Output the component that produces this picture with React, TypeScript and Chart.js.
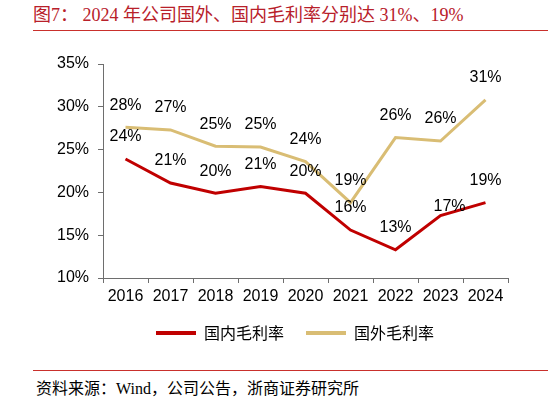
import React, { useEffect, useRef } from 'react';
import Chart from 'chart.js/auto';

// 年份与毛利率（%）
const years = ['2016', '2017', '2018', '2019', '2020', '2021', '2022', '2023', '2024'];
const domesticMargin = [23.9, 21.1, 19.9, 20.7, 19.9, 15.6, 13.3, 17.3, 18.8];
const overseasMargin = [27.6, 27.3, 25.4, 25.3, 23.6, 18.8, 26.4, 26.0, 30.8];
const seriesNames = ['国内毛利率', '国外毛利率'];

const RED = '#c00000';
const GOLD = '#d9bd74';
const AXIS = '#6e6e6e';

const valueLabels = {
    id: 'valueLabels',
    afterDatasetsDraw(chart: any) {
        const ctx = chart.ctx;
        ctx.save();
        ctx.font = '16px Arial, "Liberation Sans", sans-serif';
        ctx.fillStyle = '#000';
        ctx.textAlign = 'center';
        ctx.textBaseline = 'middle';
        chart.data.datasets.forEach((ds: any, i: number) => {
            chart.getDatasetMeta(i).data.forEach((pt: any, j: number) => {
                // 2023 国内 label sits lower and to the right in the source
                const moved = i === 0 && j === 7;
                const dx = moved ? 9 : 0;
                const dy = moved ? 13 : 0;
                ctx.fillText(Math.round(ds.data[j]) + '%', pt.x + dx, pt.y - 22 + dy);
            });
        });
        ctx.restore();
    }
};

// nudge the legend a little right, like the source
const legendShift = {
    id: 'legendShift',
    afterLayout(chart: any) {
        if (!chart.legend) return;
        chart.legend.left += 14;
        chart.legend.right += 14;
    }
};

const MarginChart = () => {
    const chartRef = useRef<HTMLCanvasElement>(null);

    useEffect(() => {
        if (!chartRef?.current) return;
        const ctx = chartRef.current.getContext('2d');
        if (!ctx) return;
        const tickFont = { family: 'Arial, "Liberation Sans", sans-serif', size: 16 };
        const myChart = new Chart(ctx, {
            type: 'line',
            data: {
                labels: years,
                datasets: [
                    {
                        label: seriesNames[0],
                        data: domesticMargin,
                        borderColor: RED,
                        backgroundColor: RED,
                        borderWidth: 3,
                        pointRadius: 0,
                        tension: 0,
                        fill: false,
                    },
                    {
                        label: seriesNames[1],
                        data: overseasMargin,
                        borderColor: GOLD,
                        backgroundColor: GOLD,
                        borderWidth: 3,
                        pointRadius: 0,
                        tension: 0,
                        fill: false,
                    }
                ]
            },
            options: {
                animation: false,
                responsive: true,
                maintainAspectRatio: false,
                layout: { padding: { top: 24, left: 54, right: 40, bottom: 9 } },
                plugins: {
                    tooltip: { enabled: false },
                    legend: {
                        position: 'bottom',
                        labels: {
                            boxWidth: 40,
                            boxHeight: 4,
                            padding: 22,
                            color: '#000',
                            font: { family: '"Noto Sans CJK SC", sans-serif', size: 16 },
                            generateLabels: (chart: any) =>
                                Chart.defaults.plugins.legend.labels.generateLabels(chart).map((l: any) => ({
                                    ...l,
                                    lineWidth: 0,
                                    fillStyle: l.strokeStyle,
                                })),
                        }
                    }
                },
                scales: {
                    x: {
                        offset: true,
                        afterFit: (s: any) => { s.height = 25; },
                        border: { display: true, color: AXIS, width: 1 },
                        grid: { display: true, offset: true, drawOnChartArea: false, drawTicks: true, tickLength: 5, color: AXIS },
                        ticks: { color: '#000', font: tickFont, padding: 4, autoSkip: false, maxRotation: 0 },
                    },
                    y: {
                        min: 10,
                        max: 35,
                        afterFit: (s: any) => { s.width = 49; },
                        border: { display: true, color: AXIS, width: 1 },
                        grid: { display: true, drawOnChartArea: false, drawTicks: true, tickLength: 5, color: AXIS },
                        ticks: { stepSize: 5, color: '#000', font: tickFont, padding: 9, callback: (v: any) => v + '%' },
                    }
                }
            },
            plugins: [valueLabels, legendShift]
        });

        return () => {
            myChart.destroy();
        };
    }, []);

    return <canvas ref={chartRef} />;
};

const App = () => {
    return (
        <div style={{ position: 'absolute', left: 0, top: 0, width: 548, height: 402, background: '#fff', overflow: 'hidden' }}>
            <div style={{
                position: 'absolute', left: 33, top: 4, height: 22, lineHeight: '22px', whiteSpace: 'nowrap',
                fontSize: 18, color: '#b8202a', fontFamily: '"Liberation Serif", "Noto Sans CJK SC", serif'
            }}>
                图7： 2024 年公司国外、国内毛利率分别达 31%、19%
            </div>
            <div style={{ position: 'absolute', left: 33, top: 30, width: 515, height: 1, background: '#c9302c' }} />
            <div style={{ position: 'absolute', left: 0, top: 40, width: 548, height: 320 }}>
                <MarginChart />
            </div>
            <div style={{ position: 'absolute', left: 33, top: 370, width: 515, height: 1, background: '#c9302c' }} />
            <div style={{
                position: 'absolute', left: 36, top: 378, height: 22, lineHeight: '22px', whiteSpace: 'nowrap',
                fontSize: 16, color: '#000', fontFamily: '"Liberation Serif", "Noto Sans CJK SC", serif'
            }}>
                资料来源：Wind，公司公告，浙商证券研究所
            </div>
        </div>
    );
};

export default App;
